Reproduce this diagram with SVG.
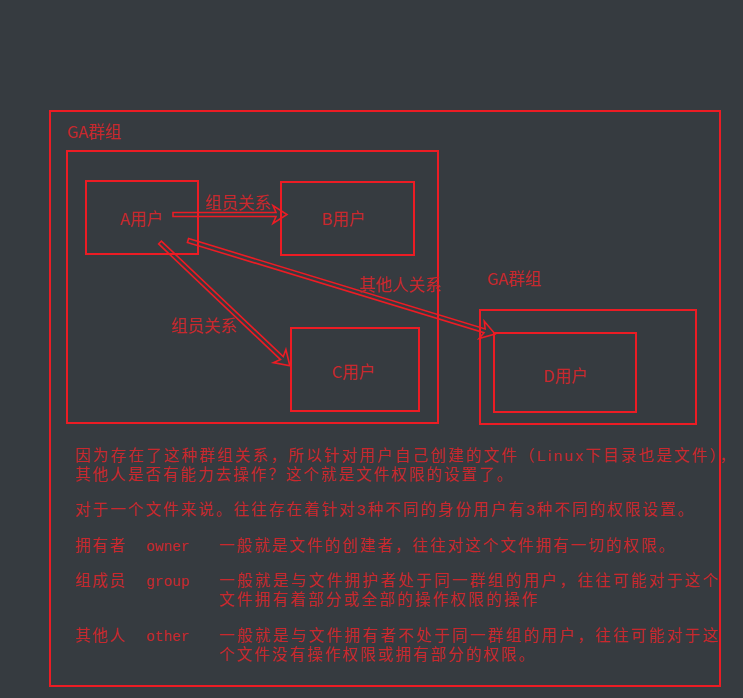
<svg xmlns="http://www.w3.org/2000/svg" width="743" height="698" viewBox="0 0 743 698">
<style>
.box{fill:none;stroke:#ec1c24;stroke-width:2}
.arr{fill:none;stroke:#ec1c24;stroke-width:1.6;stroke-linejoin:miter}
.lbl{font-family:"Noto Sans CJK SC","Liberation Serif",sans-serif;font-size:16.5px;fill:#c9282d}
.txt{font-family:"Liberation Sans","Noto Sans CJK SC",sans-serif;font-size:15.5px;fill:#c9282d}
.mono{font-family:"Liberation Mono","Noto Sans CJK SC",monospace;font-size:14.5px;fill:#c9282d}
</style>
<rect x="0" y="0" width="743" height="698" fill="#363b40"/>

<g id="outer-group">
<rect class="box" x="50" y="111" width="670" height="575"/>
<text class="lbl" x="67" y="138">GA群组</text>
</g>

<g id="inner-group">
<rect class="box" x="67" y="151" width="371" height="272"/>
</g>

<g id="userA">
<rect class="box" x="86" y="181" width="112" height="73"/>
<text class="lbl" x="141.5" y="225" text-anchor="middle">A用户</text>
</g>

<g id="userB">
<rect class="box" x="281" y="182" width="133" height="73"/>
<text class="lbl" x="343.5" y="225" text-anchor="middle">B用户</text>
</g>

<g id="userC">
<rect class="box" x="291" y="328" width="128" height="83"/>
<text class="lbl" x="353.5" y="378" text-anchor="middle">C用户</text>
</g>

<g id="d-group">
<rect class="box" x="480" y="310" width="216" height="114"/>
<text class="lbl" x="487" y="285">GA群组</text>
</g>

<g id="userD">
<rect class="box" x="494" y="333" width="142" height="79"/>
<text class="lbl" x="565.5" y="382" text-anchor="middle">D用户</text>
</g>

<g id="connectors">
<g transform="translate(173,214.5)">
<polygon class="arr" points="0,-2 103,-2 100,-9 114,0 100,9 103,2 0,2"/>
</g>
<g transform="translate(160,242.5) rotate(43.5)">
<polygon class="arr" points="0,-2 168,-2 165,-9 179,0 165,9 168,2 0,2"/>
</g>
<g transform="translate(188,240.5) rotate(16.94)">
<polygon class="arr" points="0,-2 310,-2 307,-9 321,0 307,9 310,2 0,2"/>
</g>
<text class="lbl" x="205" y="209">组员关系</text>
<text class="lbl" x="171" y="332">组员关系</text>
<text class="lbl" x="359" y="291">其他人关系</text>
</g>

<g id="notes">
<text class="txt"><tspan x="75" y="461" textLength="660" lengthAdjust="spacing">因为存在了这种群组关系，所以针对用户自己创建的文件（Linux下目录也是文件），</tspan><tspan x="75" y="479.5" textLength="437" lengthAdjust="spacing">其他人是否有能力去操作？这个就是文件权限的设置了。</tspan></text>
<text class="txt" x="75" y="515" textLength="618" lengthAdjust="spacing">对于一个文件来说。往往存在着针对3种不同的身份用户有3种不同的权限设置。</text>

<text class="txt" x="75" y="551" textLength="50" lengthAdjust="spacing">拥有者</text>
<text class="mono" x="146" y="551">owner</text>
<text class="txt" x="219" y="551" textLength="455" lengthAdjust="spacing">一般就是文件的创建者，往往对这个文件拥有一切的权限。</text>

<text class="txt" x="75" y="586" textLength="50" lengthAdjust="spacing">组成员</text>
<text class="mono" x="146" y="586">group</text>
<text class="txt"><tspan x="219" y="586" textLength="499" lengthAdjust="spacing">一般就是与文件拥护者处于同一群组的用户，往往可能对于这个</tspan><tspan x="219" y="605" textLength="318" lengthAdjust="spacing">文件拥有着部分或全部的操作权限的操作</tspan></text>

<text class="txt" x="75" y="641" textLength="50" lengthAdjust="spacing">其他人</text>
<text class="mono" x="146" y="641">other</text>
<text class="txt"><tspan x="219" y="641" textLength="499" lengthAdjust="spacing">一般就是与文件拥有者不处于同一群组的用户，往往可能对于这</tspan><tspan x="219" y="660" textLength="315" lengthAdjust="spacing">个文件没有操作权限或拥有部分的权限。</tspan></text>
</g>
</svg>
